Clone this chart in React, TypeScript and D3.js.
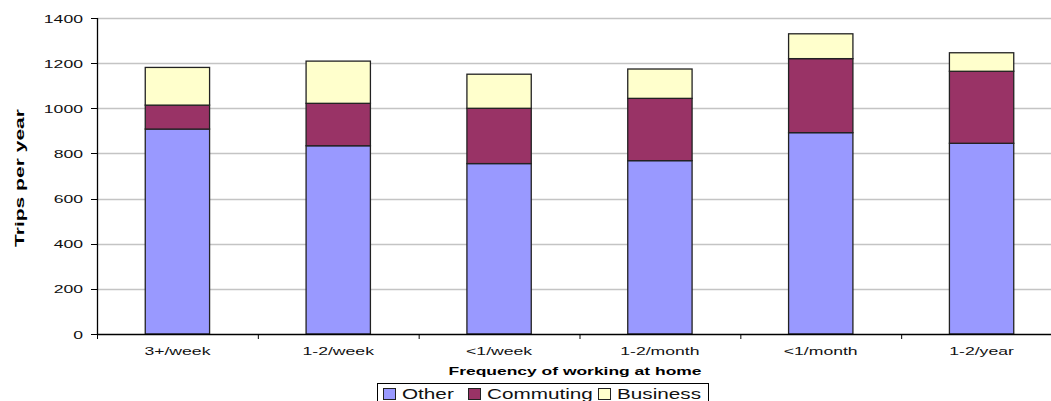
import { useEffect, useRef } from "react";
import * as d3 from "d3";

const categories = ["3+/week", "1-2/week", "<1/week", "1-2/month", "<1/month", "1-2/year"];
const seriesNames = ["Other", "Commuting", "Business"];
const otherValues = [908, 834, 755, 768, 892, 845];
const commutingValues = [106, 188, 245, 276, 328, 319];
const businessValues = [167, 187, 151, 130, 110, 82];
const yTicks = [0, 200, 400, 600, 800, 1000, 1200, 1400];
const COLORS = ["#9999FF", "#993366", "#FFFFCC"];

const FONT = "'Liberation Sans', Arial, sans-serif";

// the source chart renders its text stretched sideways; widen glyphs to match
function stretch(sel: d3.Selection<SVGTextElement, unknown, null, undefined>, k: number) {
  const node = sel.node();
  if (!node) return;
  const w = node.getComputedTextLength();
  sel.attr("textLength", w * k).attr("lengthAdjust", "spacingAndGlyphs");
}

export default function App() {
  const svgRef = useRef<SVGSVGElement>(null);

  useEffect(() => {
    const svg = d3.select(svgRef.current);
    svg.selectAll("*").remove();

    const W = 1051;
    const H = 401;
    const margin = { top: 18, left: 97, bottom: 67 };
    const plotRight = 1062; // plot area runs past the right edge
    const height = H - margin.top - margin.bottom;

    const x = d3.scaleBand().domain(categories).range([margin.left, plotRight]).paddingInner(0.6).paddingOuter(0.3);
    const xTick = d3.scaleBand().domain(categories).range([margin.left, plotRight]);
    const y = d3.scaleLinear().domain([0, 1400]).range([margin.top + height, margin.top]);

    // Grid
    yTicks.slice(1).forEach((t) => {
      svg.append("line")
        .attr("x1", margin.left).attr("x2", W)
        .attr("y1", Math.round(y(t)) + 0.5).attr("y2", Math.round(y(t)) + 0.5)
        .attr("stroke", "#C4C4C4").attr("stroke-width", 1.5);
    });

    // Stacked bars
    const rows = categories.map((c, i) => ({
      cat: c, Other: otherValues[i], Commuting: commutingValues[i], Business: businessValues[i],
    }));
    const stacked = d3.stack<any>().keys(seriesNames)(rows);
    stacked.forEach((layer, li) => {
      layer.forEach((d) => {
        svg.append("rect")
          .attr("x", x(d.data.cat)!)
          .attr("y", y(d[1]))
          .attr("width", x.bandwidth())
          .attr("height", y(d[0]) - y(d[1]))
          .attr("fill", COLORS[li])
          .attr("stroke", "#222")
          .attr("stroke-width", 1.3);
      });
    });

    // Axes lines
    svg.append("line")
      .attr("x1", margin.left + 0.5).attr("x2", margin.left + 0.5)
      .attr("y1", margin.top).attr("y2", y(0))
      .attr("stroke", "#000").attr("stroke-width", 1.3);
    svg.append("line")
      .attr("x1", margin.left).attr("x2", W)
      .attr("y1", y(0) + 0.5).attr("y2", y(0) + 0.5)
      .attr("stroke", "#000").attr("stroke-width", 1.3);

    // Y ticks + labels
    yTicks.forEach((t) => {
      svg.append("line")
        .attr("x1", margin.left - 6).attr("x2", margin.left)
        .attr("y1", Math.round(y(t)) + 0.5).attr("y2", Math.round(y(t)) + 0.5)
        .attr("stroke", "#000");
      const lbl = svg.append("text")
        .attr("x", 83).attr("y", y(t) + 4.5)
        .attr("text-anchor", "end")
        .attr("font-family", FONT).attr("font-size", "11px")
        .attr("fill", "#111")
        .text(t);
      stretch(lbl, 1.6);
    });

    // X ticks + labels
    categories.forEach((c) => {
      const tx = xTick(c)!;
      svg.append("line")
        .attr("x1", tx + 0.5).attr("x2", tx + 0.5)
        .attr("y1", y(0)).attr("y2", y(0) + 5)
        .attr("stroke", "#000");
      const lbl = svg.append("text")
        .attr("x", tx + xTick.bandwidth() / 2).attr("y", 355)
        .attr("text-anchor", "middle")
        .attr("font-family", FONT).attr("font-size", "10.8px")
        .attr("fill", "#111")
        .text(c);
      stretch(lbl, 1.63);
    });

    // Axis titles
    const xTitle = svg.append("text")
      .attr("x", 575).attr("y", 375)
      .attr("text-anchor", "middle")
      .attr("font-family", FONT).attr("font-size", "10.8px").attr("font-weight", "bold")
      .text("Frequency of working at home");
    xTitle.attr("textLength", 253).attr("lengthAdjust", "spacingAndGlyphs");

    const yTitle = svg.append("text")
      .attr("transform", `translate(24,178) rotate(-90)`)
      .attr("text-anchor", "middle")
      .attr("font-family", FONT).attr("font-size", "13px").attr("font-weight", "bold")
      .text("Trips per year");
    yTitle.attr("textLength", 138).attr("lengthAdjust", "spacingAndGlyphs");

    // Legend
    const legend = svg.append("g");
    legend.append("rect")
      .attr("x", 377.5).attr("y", 383.5).attr("width", 331).attr("height", 22)
      .attr("fill", "#fff").attr("stroke", "#000");
    const legendX = [383, 468, 598];
    seriesNames.forEach((s, i) => {
      legend.append("rect")
        .attr("x", legendX[i] + 0.5).attr("y", 388.5).attr("width", 12).attr("height", 11)
        .attr("fill", COLORS[i]).attr("stroke", "#222");
      const t = legend.append("text")
        .attr("x", legendX[i] + 19).attr("y", 399)
        .attr("font-family", FONT).attr("font-size", "15px")
        .attr("fill", "#111")
        .text(s);
      stretch(t, 1.38);
    });
  }, []);

  return (
    <svg
      ref={svgRef}
      width={1051}
      height={401}
      style={{ position: "absolute", left: 0, top: 0, background: "#fff" }}
    />
  );
}
